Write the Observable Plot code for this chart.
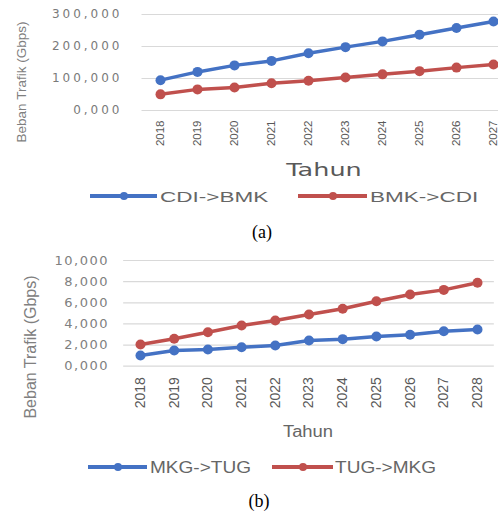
<!DOCTYPE html>
<html>
<head>
<meta charset="utf-8">
<script src="https://cdn.jsdelivr.net/npm/d3@7"></script>
<script src="https://cdn.jsdelivr.net/npm/@observablehq/plot@0.6"></script>
<style>
  html, body { margin: 0; padding: 0; background: #fff; }
  #wrap { position: relative; width: 498px; height: 511px; overflow: hidden; background: #fff; }
  .abs { position: absolute; white-space: nowrap; line-height: 1; }
  #chartA, #chartB { position: absolute; left: 0; }
  #chartA g[aria-label="y-axis tick label"] { letter-spacing: 3px; }
  #chartB g[aria-label="y-axis tick label"] { letter-spacing: 1.5px; }
</style>
</head>
<body>
<div id="wrap"></div>
<script>
// ---- data ----
const yearsA = [2018, 2019, 2020, 2021, 2022, 2023, 2024, 2025, 2026, 2027];
const cdiBmk = [94.8, 120.6, 141, 155, 179, 198, 216, 237, 258, 278];
const bmkCdi = [50.5, 66, 72, 85, 93, 103, 113, 123, 134, 144];
const seriesA = ["CDI->BMK", "BMK->CDI"];
const ticksA = [0, 100, 200, 300];

const yearsB = [2018, 2019, 2020, 2021, 2022, 2023, 2024, 2025, 2026, 2027, 2028];
const mkgTug = [1.01, 1.48, 1.58, 1.80, 1.96, 2.43, 2.56, 2.81, 2.97, 3.31, 3.47];
const tugMkg = [2.05, 2.59, 3.22, 3.85, 4.32, 4.89, 5.43, 6.15, 6.78, 7.22, 7.89];
const seriesB = ["MKG->TUG", "TUG->MKG"];
const ticksB = [0, 2, 4, 6, 8, 10];

const colors = ["#4472C4", "#C0504D"];
const yTitle = "Beban Trafik (Gbps)";
const xTitle = "Tahun";

// ---- helpers ----
const fmt = d => d3.format(".3f")(d).replace(".", ",");
const longA = [
  ...yearsA.map((y, i) => ({year: y, value: cdiBmk[i], series: seriesA[0]})),
  ...yearsA.map((y, i) => ({year: y, value: bmkCdi[i], series: seriesA[1]}))
];
const longB = [
  ...yearsB.map((y, i) => ({year: y, value: mkgTug[i], series: seriesB[0]})),
  ...yearsB.map((y, i) => ({year: y, value: tugMkg[i], series: seriesB[1]}))
];

const wrap = document.getElementById("wrap");

function addText(txt, opts) {
  const d = document.createElement("div");
  d.className = "abs";
  d.textContent = txt;
  Object.assign(d.style, opts);
  wrap.appendChild(d);
  return d;
}

function addLegendItem(x1, x2, y, color, label, textX, font, size, scale) {
  const line = document.createElement("div");
  line.className = "abs";
  Object.assign(line.style, {left: x1 + "px", top: (y - 1.75) + "px", width: (x2 - x1) + "px", height: "3.5px", background: color});
  wrap.appendChild(line);
  const dot = document.createElement("div");
  dot.className = "abs";
  const cx = (x1 + x2) / 2;
  Object.assign(dot.style, {left: (cx - 4) + "px", top: (y - 4) + "px", width: "8px", height: "8px", borderRadius: "50%", background: color});
  wrap.appendChild(dot);
  addText(label, {left: textX + "px", top: y + "px", fontFamily: font, fontSize: size + "px", color: "#666666",
    transformOrigin: "left center", transform: `translateY(-50%) scaleX(${scale})`});
}

// ---- chart (a) ----
const svgA = Plot.plot({
  width: 498, height: 160,
  marginLeft: 141.5, marginRight: 0, marginTop: 14, marginBottom: 50,
  style: {fontFamily: "DejaVu Sans", background: "transparent", overflow: "visible"},
  x: {type: "linear", domain: [2017.5, 2027.5], range: [141.5, 511.5], label: null},
  y: {domain: [0, 300], range: [110, 14], label: null},
  color: {domain: seriesA, range: colors},
  marks: [
    Plot.ruleY(ticksA, {y: d => d, x1: 2017.5, x2: 2027.5, stroke: "#d9d9d9", strokeWidth: 1.2}),
    Plot.axisY(ticksA, {tickSize: 0, tickPadding: 19.5, tickFormat: fmt, fontSize: 12, fill: "#7a7a7a", label: null}),
    Plot.axisX(yearsA, {tickSize: 0, tickPadding: 10, tickRotate: -90, tickFormat: d => String(d),
      fontFamily: "Liberation Sans", fontSize: 11.5, fill: "#595959", label: null}),
    Plot.line(longA, {x: "year", y: "value", stroke: "series", strokeWidth: 3.5}),
    Plot.dot(longA, {x: "year", y: "value", fill: "series", r: 5})
  ]
});
svgA.id = "chartA";
svgA.style.top = "0px";
wrap.appendChild(svgA);

// ---- chart (b) ----
const svgB = Plot.plot({
  width: 498, height: 160,
  marginLeft: 123, marginRight: 4, marginTop: 20, marginBottom: 34.3,
  style: {fontFamily: "DejaVu Sans", background: "transparent", overflow: "visible"},
  x: {type: "linear", domain: [2017.5, 2028.5], range: [123.15, 493.85], label: null},
  y: {domain: [0, 10], range: [125.7, 20], label: null},
  color: {domain: seriesB, range: colors},
  marks: [
    Plot.ruleY(ticksB, {y: d => d, x1: 2017.5, x2: 2028.5, stroke: "#d9d9d9", strokeWidth: 1.2}),
    Plot.axisY(ticksB, {tickSize: 0, tickPadding: 14.5, tickFormat: fmt, fontSize: 13, fill: "#808080", label: null}),
    Plot.axisX(yearsB, {tickSize: 0, tickPadding: 11, tickRotate: -90, tickFormat: d => String(d),
      fontFamily: "Liberation Sans", fontSize: 14, fill: "#595959", label: null}),
    Plot.line(longB, {x: "year", y: "value", stroke: "series", strokeWidth: 3.5}),
    Plot.dot(longB, {x: "year", y: "value", fill: "series", r: 5})
  ]
});
svgB.id = "chartB";
svgB.style.top = "240px";
wrap.appendChild(svgB);

// ---- titles, legends, captions ----
addText(yTitle, {left: "22px", top: "82px", fontFamily: "Liberation Sans", fontSize: "13.5px", color: "#7f7f7f",
  transform: "translate(-50%, -50%) rotate(-90deg)"});
addText(xTitle, {left: "324px", top: "170px", fontFamily: "DejaVu Sans", fontSize: "17px", color: "#595959",
  transform: "translate(-50%, -50%) scaleX(1.5)"});
addLegendItem(90, 157, 196, colors[0], seriesA[0], 160, "Liberation Sans", 15, 1.5);
addLegendItem(298, 367, 196, colors[1], seriesA[1], 370, "Liberation Sans", 15, 1.5);
addText("(a)", {left: "262px", top: "232px", fontFamily: "Liberation Serif", fontSize: "18px", color: "#000",
  transform: "translate(-50%, -50%)"});

addText(yTitle, {left: "31px", top: "347px", fontFamily: "Liberation Sans", fontSize: "16px", color: "#808080",
  transform: "translate(-50%, -50%) rotate(-90deg)"});
addText(xTitle, {left: "308px", top: "432px", fontFamily: "Liberation Sans", fontSize: "16px", color: "#666666",
  transform: "translate(-50%, -50%) scaleX(1.15)"});
addLegendItem(88, 147, 467, colors[0], seriesB[0], 150, "Liberation Sans", 17, 1.12);
addLegendItem(272, 333, 467, colors[1], seriesB[1], 335, "Liberation Sans", 17, 1.12);
addText("(b)", {left: "259px", top: "501px", fontFamily: "Liberation Serif", fontSize: "18px", color: "#000",
  transform: "translate(-50%, -50%)"});
</script>
</body>
</html>
